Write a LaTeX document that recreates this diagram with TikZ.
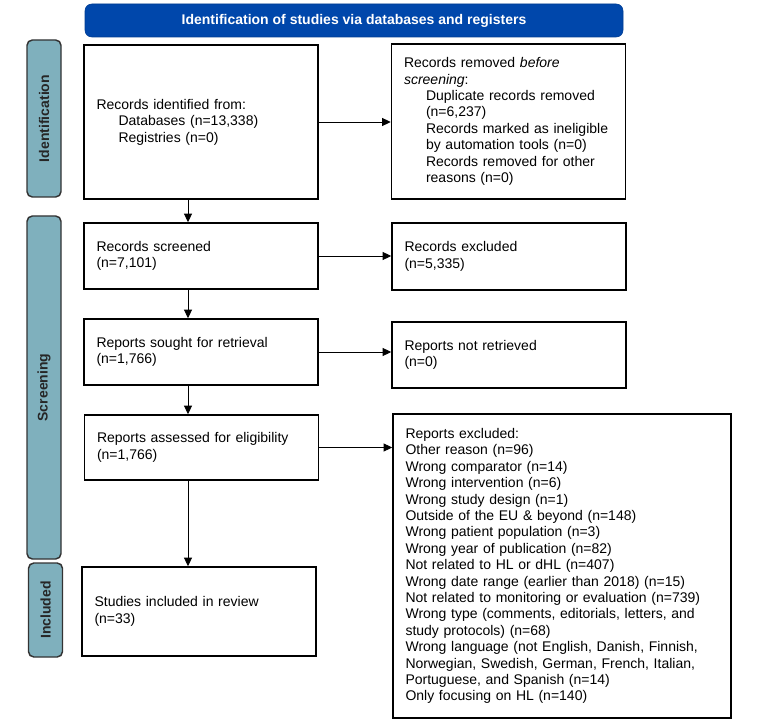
\documentclass[tikz,border=0pt]{standalone}
\usepackage{fontspec}
\setmainfont{Liberation Sans}
\usetikzlibrary{arrows.meta}
\definecolor{prismablue}{RGB}{0,71,171}
\definecolor{sideblue}{RGB}{127,176,189}
\tikzset{
  box/.style={draw, line width=1.1pt, align=left, inner xsep=9.4pt, text width=156.7pt,
    font=\fontsize{10.5}{12.3}\selectfont},
  arr/.style={-{Triangle[length=6.5pt,width=6pt]}, line width=0.7pt},
  side/.style={draw=black!80, line width=1.1pt, fill=sideblue, rounded corners=4pt, rotate=90,
    inner sep=0pt, minimum height=25.5pt, text=black!85, font=\fontsize{10.5}{12}\selectfont\bfseries},
  banner/.style={draw=prismablue!85!black, fill=prismablue, rounded corners=5pt, text=white,
    minimum width=403.5pt, minimum height=24.75pt, font=\fontsize{10.5}{12}\selectfont\bfseries},
}
\def\ind{\hspace*{16.5pt}}
\begin{document}
\begin{tikzpicture}[x=0.75pt,y=-0.75pt]
\useasboundingbox (0,0) rectangle (771,720);
% header and phase labels
\node [banner] (head) at (354,20.5) {Identification of studies via databases and registers};
\node [side, minimum width=117.75pt] (phid) at (44,118.5) {Identification};
\node [side, minimum width=257.25pt] (phscr) at (44,387.5) {Screening};
\node [side, minimum width=70.5pt] (phinc) at (45.5,610) {Included};
% left column
\node [box, minimum height=115.5pt] (ident) at (201,122) {Records identified from:\\
  \ind Databases (n=13,338)\\ \ind Registries (n=0)};
\node [box, minimum height=49.5pt] (screened) at (201,256) {Records screened\\(n=7,101)};
\node [box, minimum height=49.5pt] (sought) at (201,352) {Reports sought for retrieval\\(n=1,766)};
\node [box, minimum height=48.75pt] (assessed) at (201.5,447.5) {Reports assessed for eligibility\\(n=1,766)};
\node [box, minimum height=66.75pt] (incl) at (199,611.5) {Studies included in review\\(n=33)};
% right column
\node [box, minimum height=116.25pt] (removed) at (508.5,121.5) {Records removed \emph{before}\\
  \emph{screening}:\\ \ind Duplicate records removed\\ \ind (n=6,237)\\
  \ind Records marked as ineligible\\ \ind by automation tools (n=0)\\
  \ind Records removed for other\\ \ind reasons (n=0)};
\node [box, minimum height=50.25pt] (recexcl) at (509,256.5) {Records excluded\\(n=5,335)};
\node [box, minimum height=49.5pt] (notret) at (509,355) {Reports not retrieved\\(n=0)};
\node [box, text width=234.7pt, minimum height=228pt] (repexcl) at (562,566) {Reports excluded:\\
  Other reason (n=96)\\ Wrong comparator (n=14)\\ Wrong intervention (n=6)\\
  Wrong study design (n=1)\\ Outside of the EU \& beyond (n=148)\\
  Wrong patient population (n=3)\\ Wrong year of publication (n=82)\\
  Not related to HL or dHL (n=407)\\ Wrong date range (earlier than 2018) (n=15)\\
  Not related to monitoring or evaluation (n=739)\\
  Wrong type (comments, editorials, letters, and\\ study protocols) (n=68)\\
  Wrong language (not English, Danish, Finnish,\\
  Norwegian, Swedish, German, French, Italian,\\
  Portuguese, and Spanish (n=14)\\ Only focusing on HL (n=140)};
% arrows
\coordinate (spine) at (188,0);
\draw [arr] (ident.south -| spine) -- (screened.north -| spine);
\draw [arr] (screened.south -| spine) -- (sought.north -| spine);
\draw [arr] (sought.south -| spine) -- (assessed.north -| spine);
\draw [arr] (assessed.south -| spine) -- (incl.north -| spine);
\draw [arr] (ident.east) -- (ident.east -| removed.west);
\draw [arr] (screened.east) -- (screened.east -| recexcl.west);
\draw [arr] (sought.east) -- (sought.east -| notret.west);
\draw [arr] (assessed.east) -- (assessed.east -| repexcl.west);
\end{tikzpicture}
\end{document}
